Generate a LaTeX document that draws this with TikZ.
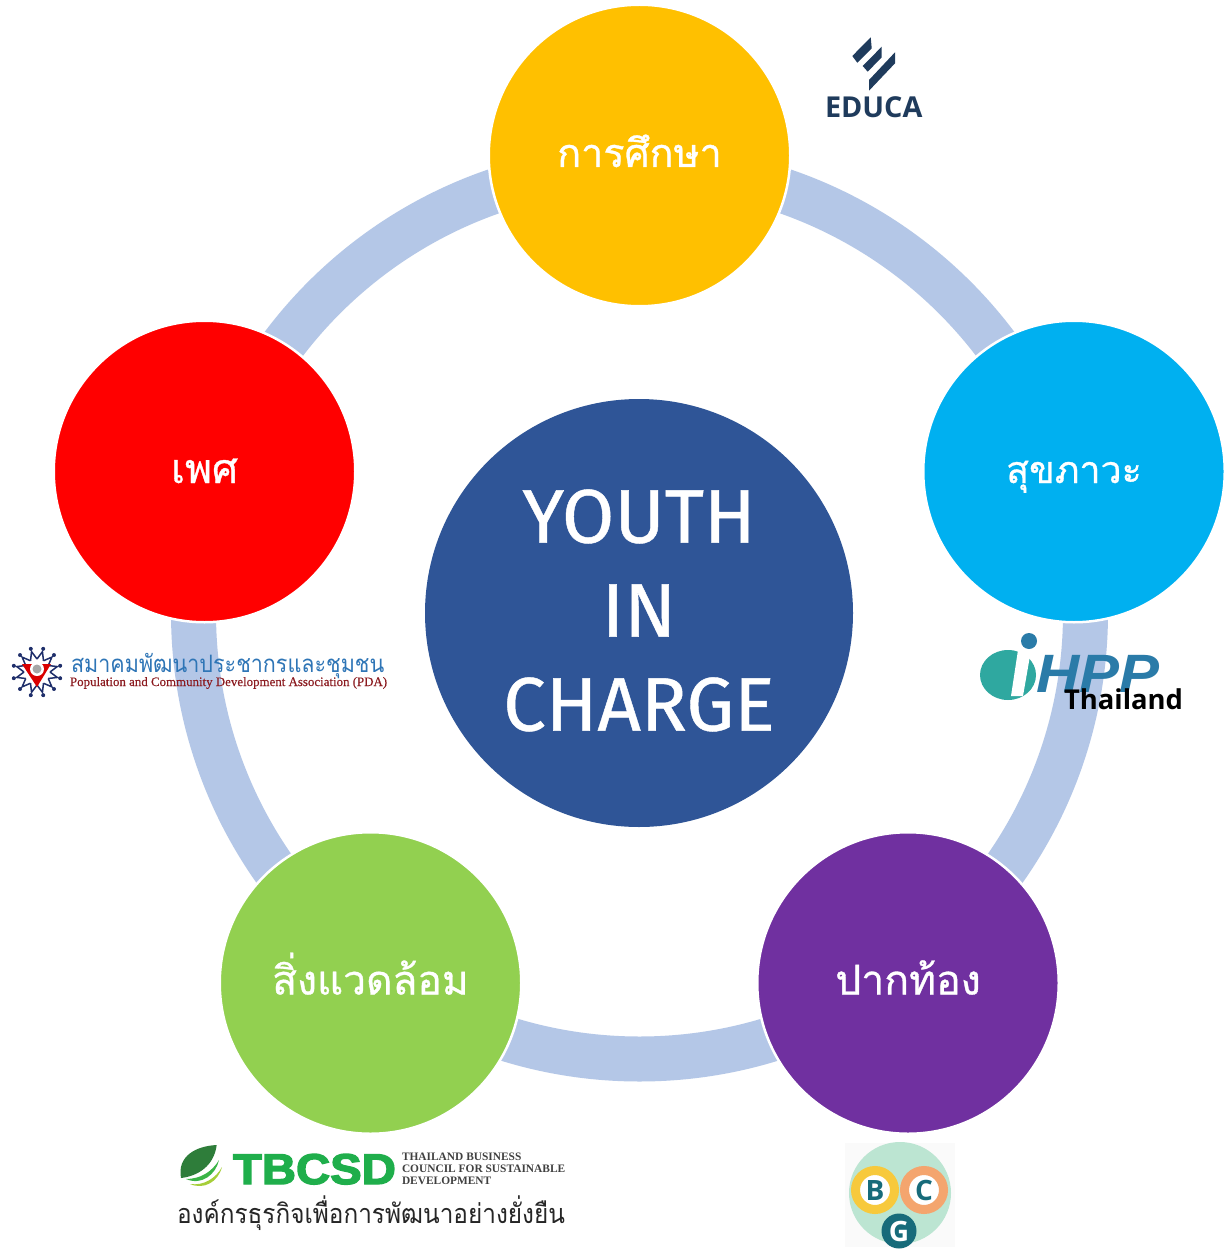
\documentclass[tikz,border=0pt]{standalone}
\usepackage{fontspec}
\setmainfont{Noto Sans}
\newfontfamily\hubfont[FakeBold=0.6]{Fira Sans}
\newfontfamily\thaifont[Script=Thai]{Loma}
\newfontfamily\thaibold[Script=Thai,FakeBold=0.8]{Loma}
\newfontfamily\serifbold{Liberation Serif Bold}
\newfontfamily\lserif[FakeBold=0.3]{Liberation Serif}
\newfontfamily\hppfont{Liberation Sans Bold Italic}
\newfontfamily\tbfont[FakeBold=3]{Liberation Sans Bold}
\newfontfamily\eduf{Open Sans Bold}
\newcommand{\fsz}[1]{\fontsize{#1}{#1}\selectfont}
\definecolor{ringc}{HTML}{B4C7E7}
\definecolor{cblue}{HTML}{2F5597}
\definecolor{cyellow}{HTML}{FFC000}
\definecolor{ccyan}{HTML}{00B0F0}
\definecolor{cpurple}{HTML}{7030A0}
\definecolor{cgreen}{HTML}{92D050}
\definecolor{cred}{HTML}{FF0000}
\definecolor{navy}{HTML}{1F3B5C}
\definecolor{hppb}{HTML}{2A7BA8}
\definecolor{hppt}{HTML}{2FA8A0}
\definecolor{pdab}{HTML}{2E75B6}
\definecolor{pdar}{HTML}{8B1A1F}
\definecolor{pdan}{HTML}{1F2F6B}
\definecolor{tbg}{HTML}{1FAE4B}
\definecolor{tbd}{HTML}{2E7D3A}
\definecolor{tbl}{HTML}{A6CE39}
\definecolor{bcgt}{HTML}{176B7A}
\definecolor{bcgp}{HTML}{BCE5D2}
\definecolor{bcgy}{HTML}{F7C93C}
\definecolor{bcgo}{HTML}{F4A56E}
\tikzset{
 topic/.style={circle,fill=#1,draw=white,line width=2.5pt,minimum size=301.5pt,inner sep=0pt,text=white,font=\thaibold\fsz{39.5},text height=31pt,text depth=8pt},
 hub/.style={circle,fill=cblue,draw=none,minimum size=428pt,inner sep=0pt,text=white,align=center,font=\hubfont\fontsize{76}{94}\selectfont},
 ringline/.style={circle,draw=ringc,line width=45pt,minimum size=892pt,inner sep=0pt},
 logotext/.style={inner sep=0pt,outer sep=0pt,anchor=base west},
 bcgring/.style={circle,draw=#1,fill=white,line width=9pt,minimum size=39pt,inner sep=0pt,text=bcgt,font=\eduf\fsz{28}},
}
\begin{document}
\begin{tikzpicture}[x=1pt,y=-1pt]
\useasboundingbox (0,0) rectangle (1223,1249);
\fill[white] (0,0) rectangle (1223,1249);
\node[ringline] (ring) at (639.5,613) {};
\node[hub] (hubn) at (639,613) {YOUTH\\IN\\CHARGE\rule[-6pt]{0pt}{6pt}};
\node[topic=cyellow] (edu) at (639.5,155.5) {การศึกษา};
\node[topic=ccyan,font=\thaibold\fsz{37.5}] (hea) at (1074,471.5) {สุขภาวะ};
\node[topic=cpurple,font=\thaibold\fsz{41}] (mou) at (908,983) {ปากท้อง};
\node[topic=cgreen,font=\thaibold\fsz{40.7}] (env) at (370.5,983) {สิ่งแวดล้อม};
\node[topic=cred,font=\thaibold\fsz{41}] (sex) at (204.5,471.5) {เพศ};
% EDUCA
\fill[navy] (870.7,37.3) -- (871.7,48.3) -- (857.3,62.7) -- (852.3,56) -- cycle;
\fill[navy] (881.7,46.7) -- (881.7,57.3) -- (867.7,71.7) -- (862.7,66) -- cycle;
\fill[navy] (895,52.3) -- (895,63.3) -- (869,90.7) -- (869,80) -- cycle;
\node[logotext,text=navy,font=\eduf\fsz{28.8}] (educa) at (825,118) {EDUCA};
% iHPP
\fill[hppt] (1008,675) ellipse [x radius=28,y radius=25];
\fill[white] (1018,650) -- (1031,650) -- (1023,696) -- (1011,696) -- cycle;
\fill[hppb] (1029,641) circle [radius=8];
\node[logotext,text=hppb,font=\hppfont\fsz{54},xscale=1.11,transform shape] (hpp) at (1036,692) {HPP};
\node[logotext,text=black,font=\eduf\fsz{27.4}] (thl) at (1064,709) {Thailand};
% PDA
\begin{scope}[shift={(37,672)}]
\foreach \a in {0,30,...,330}{
 \draw[pdan,line width=1.5pt] (\a:13) -- (\a+15:21) -- (\a+30:13);
 \fill[pdan] (\a+15:24) circle [radius=2];
}
\fill[cred!85!black] (-15,-8) -- (14,-8) -- (0,15) -- cycle;
\fill[white] (0,-3) circle [radius=7];
\fill[gray!70] (0,-3) circle [radius=4.5];
\end{scope}
\node[logotext,text=pdab,font=\thaifont\fsz{24},xscale=0.897,transform shape] (pdath) at (71,672) {สมาคมพัฒนาประชากรและชุมชน};
\node[logotext,text=pdar,font=\lserif\fsz{12.9}] (pdaen) at (70,686) {Population and Community Development Association (PDA)};
% TBCSD
\fill[tbd] (216.7,1145) .. controls (196,1146) and (177,1156) .. (181,1178) .. controls (198,1176) and (214,1166) .. (216.7,1145) -- cycle;
\fill[tbg!80!tbl] (186,1179) .. controls (200,1179) and (212,1172) .. (219,1160) .. controls (216,1174) and (202,1186) .. (186,1179) -- cycle;
\fill[tbl] (190,1184) .. controls (204,1186) and (216,1178) .. (222,1167) .. controls (218,1182) and (204,1190) .. (190,1184) -- cycle;
\node[logotext,text=tbg,font=\tbfont\fsz{43},xscale=1.1,transform shape] (tb) at (233,1184) {TBCSD};
\node[logotext,text=black!75,font=\serifbold\fsz{11.4}] (tb1) at (402,1160) {THAILAND BUSINESS};
\node[logotext,text=black!75,font=\serifbold\fsz{11.4}] (tb2) at (402,1172) {COUNCIL FOR SUSTAINABLE};
\node[logotext,text=black!75,font=\serifbold\fsz{11.4}] (tb3) at (402,1184) {DEVELOPMENT};
\node[logotext,text=black!85,font=\thaifont\fsz{27},xscale=0.902,transform shape] (tbth) at (177,1223) {องค์กรธุรกิจเพื่อการพัฒนาอย่างยั่งยืน};
% BCG
\fill[black!2] (845,1143) rectangle (955,1247);
\fill[bcgp] (900,1193) circle [radius=51];
\node[bcgring=bcgy] (bb) at (875,1190) {B};
\node[bcgring=bcgo] (cc) at (924,1190) {C};
\node[circle,fill=bcgt,minimum size=35pt,inner sep=0pt,text=white,font=\eduf\fsz{28}] (gg) at (899,1231) {G};
\end{tikzpicture}
\end{document}
